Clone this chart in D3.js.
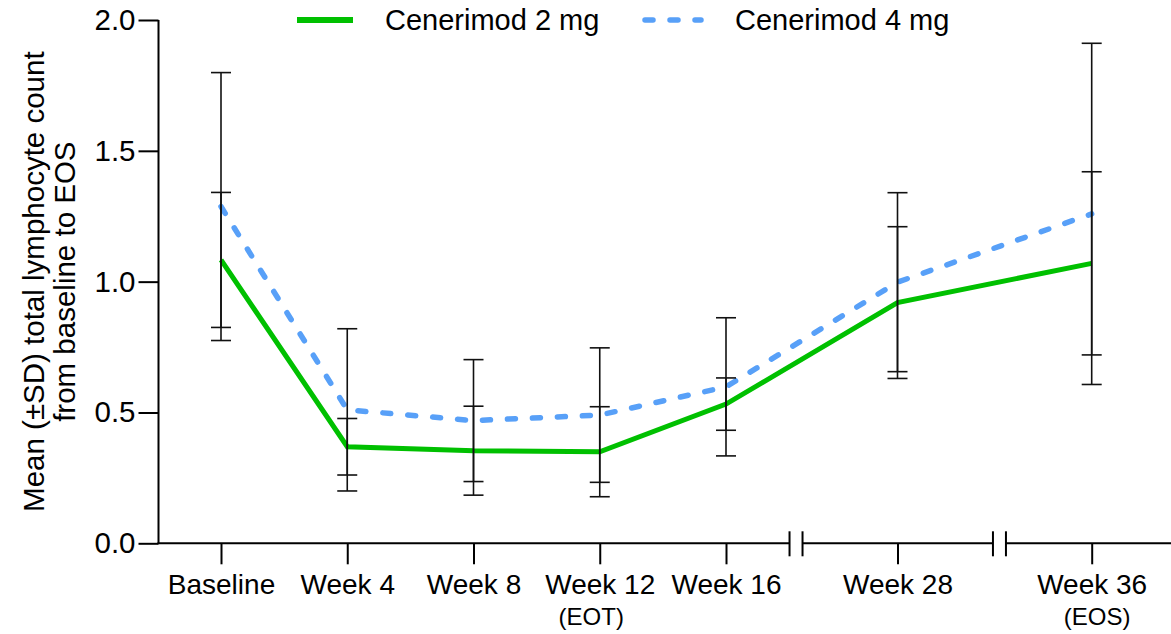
<!DOCTYPE html>
<html>
<head>
<meta charset="utf-8">
<script src="https://cdn.jsdelivr.net/npm/d3@7"></script>
<style>
  html, body { margin: 0; padding: 0; background: #fff; }
  svg { display: block; font-family: "Liberation Sans", Arial, sans-serif; }
</style>
</head>
<body>
<svg id="chart" width="1171" height="634"></svg>
<script>
// Visit schedule (weeks from baseline) and axis labels
const weeks = [0, 4, 8, 12, 16, 28, 36];
const visitLabels = ["Baseline", "Week 4", "Week 8", "Week 12", "Week 16", "Week 28", "Week 36"];
const visitSubLabels = ["", "", "", "(EOT)", "", "", "(EOS)"];

// Mean and SD of total lymphocyte count per dose group
const mean2mg = [1.083, 0.369, 0.354, 0.350, 0.532, 0.920, 1.070];
const sd2mg   = [0.258, 0.108, 0.170, 0.172, 0.100, 0.290, 0.350];
const mean4mg = [1.287, 0.510, 0.469, 0.490, 0.598, 0.998, 1.259];
const sd4mg   = [0.512, 0.310, 0.233, 0.257, 0.264, 0.342, 0.652];

const yTicks = [0, 0.5, 1.0, 1.5, 2.0];
const seriesNames = ["Cenerimod 2 mg", "Cenerimod 4 mg"];

// Axis breaks sit between Week 16 / Week 28 and Week 28 / Week 36
const axisBreaks = [20.9, 32.2];

const svg = d3.select("#chart");
const green = "#00c000";
const blue = "#58a0f8";

// Piecewise-linear x scale: regular spacing up to Week 16, compressed afterwards
const x = d3.scaleLinear()
  .domain([0, 16, 28, 36])
  .range([221, 726, 897.5, 1091.7]);

const y = d3.scaleLinear().domain([0, 2]).range([543.3, 20]);

const axisX0 = 158.5, axisX1 = 1171;
const fontMain = 28;

// ---- Y axis ----
const yAxis = d3.axisLeft(y)
  .tickValues(yTicks)
  .tickFormat(d3.format(".1f"))
  .tickSize(20)
  .tickPadding(3);
const gy = svg.append("g").attr("transform", `translate(${axisX0},0)`).call(yAxis);
gy.select(".domain").attr("stroke", "#000").attr("stroke-width", 2)
  .attr("d", `M0,${y(2)}V${y(0)}`);
gy.selectAll(".tick line").attr("stroke", "#000").attr("stroke-width", 2);
gy.selectAll(".tick text").attr("font-size", 29.5).attr("fill", "#000")
  .attr("font-family", "Liberation Sans, Arial, sans-serif");

// ---- X axis with break marks ----
const gx = svg.append("g").attr("transform", `translate(0,${y(0)})`);
const xAxis = d3.axisBottom(x)
  .tickValues(weeks)
  .tickFormat((d, i) => visitLabels[i])
  .tickSize(21)
  .tickPadding(10);
gx.call(xAxis);
gx.select(".domain").remove();
gx.selectAll(".tick line").attr("stroke", "#000").attr("stroke-width", 2);
gx.selectAll(".tick text").attr("font-size", fontMain).attr("fill", "#000")
  .attr("font-family", "Liberation Sans, Arial, sans-serif");

// sub-labels under EOT / EOS visits
const subOffset = { "(EOT)": -9, "(EOS)": 5 };
gx.selectAll(".tick").each(function (d, i) {
  if (visitSubLabels[i]) {
    d3.select(this).append("text")
      .attr("x", subOffset[visitSubLabels[i]] || 0)
      .attr("y", 82)
      .attr("text-anchor", "middle")
      .attr("fill", "#000")
      .attr("font-size", 24)
      .attr("font-family", "Liberation Sans, Arial, sans-serif")
      .text(visitSubLabels[i]);
  }
});

// axis line drawn as segments separated at each break
const gap = 6.5;
const breakPx = axisBreaks.map(w => x(w));
const segEdges = [axisX0 - 1, ...breakPx.flatMap(b => [b - gap, b + gap]), axisX1];
for (let i = 0; i < segEdges.length; i += 2) {
  gx.append("line")
    .attr("x1", segEdges[i]).attr("x2", segEdges[i + 1])
    .attr("y1", 0).attr("y2", 0)
    .attr("stroke", "#000").attr("stroke-width", 2);
}
breakPx.forEach(b => {
  [b - gap, b + gap].forEach(px => {
    gx.append("line")
      .attr("x1", px).attr("x2", px)
      .attr("y1", -12).attr("y2", 13)
      .attr("stroke", "#000").attr("stroke-width", 2);
  });
});

// ---- Y axis title ----
const yTitle = svg.append("text")
  .attr("transform", `translate(0,${(y(0) + y(2)) / 2}) rotate(-90)`)
  .attr("text-anchor", "middle")
  .attr("font-size", 29.5)
  .attr("fill", "#000");
yTitle.append("tspan").attr("x", 0).attr("y", 44).text("Mean (\u00B1SD) total lymphocyte count");
yTitle.append("tspan").attr("x", 0).attr("y", 75).text("from baseline to EOS");

// ---- Series lines ----
const pts2 = weeks.map((w, i) => ({ w, m: mean2mg[i], sd: sd2mg[i] }));
const pts4 = weeks.map((w, i) => ({ w, m: mean4mg[i], sd: sd4mg[i] }));
const line = d3.line().x(d => x(d.w)).y(d => y(d.m));

svg.append("path").datum(pts4)
  .attr("d", line)
  .attr("fill", "none")
  .attr("stroke", blue)
  .attr("stroke-width", 5.5)
  .attr("stroke-linecap", "round")
  .attr("stroke-dasharray", "8 17");

svg.append("path").datum(pts2)
  .attr("d", line)
  .attr("fill", "none")
  .attr("stroke", green)
  .attr("stroke-width", 5);

// ---- Error bars (mean ± SD) ----
const capHalf = 10;
[pts2, pts4].forEach(pts => {
  const g = svg.append("g").attr("stroke", "#111").attr("stroke-width", 1.6);
  pts.forEach(d => {
    const cx = x(d.w), top = y(d.m + d.sd), bot = y(d.m - d.sd);
    g.append("line").attr("x1", cx).attr("x2", cx).attr("y1", top).attr("y2", bot);
    g.append("line").attr("x1", cx - capHalf).attr("x2", cx + capHalf).attr("y1", top).attr("y2", top);
    g.append("line").attr("x1", cx - capHalf).attr("x2", cx + capHalf).attr("y1", bot).attr("y2", bot);
  });
});

// ---- Legend ----
const legend = svg.append("g");
const legendItems = [
  { name: seriesNames[0], color: green, dash: null, x0: 297, x1: 353, tx: 385 },
  { name: seriesNames[1], color: blue, dash: "8 17", x0: 645, x1: 701, tx: 735 }
];
legendItems.forEach(it => {
  legend.append("line")
    .attr("x1", it.x0).attr("x2", it.x1).attr("y1", 20).attr("y2", 20)
    .attr("stroke", it.color)
    .attr("stroke-width", it.dash ? 5.5 : 6)
    .attr("stroke-linecap", it.dash ? "round" : "butt")
    .attr("stroke-dasharray", it.dash);
  legend.append("text")
    .attr("x", it.tx).attr("y", 20)
    .attr("dy", "0.35em")
    .attr("font-size", 29)
    .attr("fill", "#000")
    .text(it.name);
});
</script>
</body>
</html>
